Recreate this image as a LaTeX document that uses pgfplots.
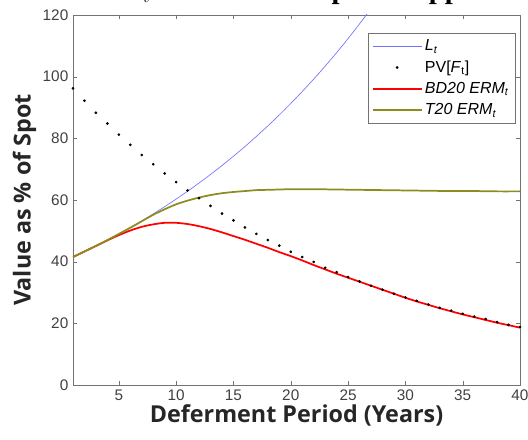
\documentclass[border=0pt]{standalone}
\usepackage{fontspec}
\setmainfont{Liberation Sans}
\newfontfamily\labelfont{Open Sans}
\newfontfamily\titlefont{Liberation Serif}
\usepackage{pgfplots}
\pgfplotsset{compat=1.18}
\definecolor{axgray}{rgb}{0.45,0.45,0.45}
\definecolor{lblue}{rgb}{0.45,0.45,1}
\definecolor{olive20}{rgb}{0.55,0.55,0.12}

\begin{document}
\begin{tikzpicture}
\begin{axis}[scale only axis,
             width=335.25pt,
             height=277.5pt,
             xmin=1, xmax=40,
             ymin=0, ymax=120,
             xtick={5,10,...,40},
             ytick={0,20,...,120},
             axis line style={axgray},
             tick style={axgray},
             major tick length=3pt,
             tick label style={font=\fontsize{11.5}{14}\selectfont, text=black!75},
             /pgf/number format/assume math mode=true,
             xlabel={\labelfont\bfseries Deferment Period (Years)},
             ylabel={\labelfont\bfseries Value as \% of Spot},
             label style={font=\fontsize{17.5}{20}\selectfont, text=black!85},
             xlabel style={yshift=4pt},
             ylabel style={yshift=-2pt},
             legend cell align=left,
             legend style={at={(0.99,0.952)}, anchor=north east,
                           draw=axgray, font=\fontsize{12}{16}\selectfont,
                           inner sep=3pt, row sep=2pt},
             legend image code/.code={\draw[mark repeat=2,mark phase=2,#1]
                 plot coordinates {(0cm,0cm) (0.64cm,0cm) (1.28cm,0cm)};},
             clip=true]

    % L_t
    \addplot[lblue, line width=0.5pt, smooth] coordinates {
        (1,41.5) (2,43.26) (3,45.09) (4,47.00) (5,48.99) (6,51.07)
        (7,53.23) (8,55.49) (9,57.84) (10,60.29) (11,62.85) (12,65.51)
        (13,68.29) (14,71.18) (15,74.20) (16,77.34) (17,80.62) (18,84.03)
        (19,87.59) (20,91.31) (21,95.18) (22,99.21) (23,103.41) (24,107.79)
        (25,112.36) (26,117.12) (27,122.09) (28,127.26)
    };
    \addlegendentry{\itshape L\textsubscript{t}}

    % PV[F_t]
    \addplot[only marks, mark=*, mark size=0.8pt, black] coordinates {
        (1,96.2) (2,92.2) (3,88.3) (4,84.8) (5,81.2) (6,77.9) (7,74.6)
        (8,71.6) (9,68.6) (10,65.8) (11,63.1) (12,60.6) (13,58.1) (14,55.6)
        (15,53.4) (16,51.1) (17,49.0) (18,47.0) (19,45.2) (20,43.2)
        (21,41.5) (22,39.9) (23,38.0) (24,36.6) (25,35.0) (26,33.6)
        (27,32.2) (28,30.9) (29,29.6) (30,28.4) (31,27.3) (32,26.1)
        (33,25.0) (34,24.1) (35,23.1) (36,22.2) (37,21.4) (38,20.4)
        (39,19.5) (40,18.8)
    };
    \addlegendentry{PV[\textit{F}\textsubscript{t}]}

    % BD20 ERM_t
    \addplot[red, line width=1.3pt, smooth] coordinates {
        (1,41.5) (2,43.3) (3,45.1) (4,46.9) (5,48.6) (6,50.1) (7,51.3)
        (8,52.1) (9,52.6) (10,52.6) (11,52.2) (12,51.5) (13,50.6)
        (14,49.5) (15,48.3) (16,47.1) (17,45.8) (18,44.5) (19,43.1)
        (20,41.8) (21,40.4) (22,38.9) (23,37.5) (24,36.1) (25,34.8)
        (26,33.5) (27,32.2) (28,30.9) (29,29.6) (30,28.3) (31,27.1)
        (32,26.0) (33,24.9) (34,23.9) (35,22.9) (36,22.0) (37,21.1)
        (38,20.2) (39,19.4) (40,18.6)
    };
    \addlegendentry{\itshape BD20 ERM\textsubscript{t}}

    % T20 ERM_t
    \addplot[olive20, line width=1.3pt, smooth] coordinates {
        (1,41.5) (2,43.3) (3,45.1) (4,47.0) (5,49.0) (6,51.0) (7,53.1)
        (8,55.2) (9,57.0) (10,58.6) (11,59.8) (12,60.8) (13,61.6)
        (14,62.2) (15,62.6) (16,62.9) (17,63.2) (18,63.3) (19,63.4)
        (20,63.5) (22,63.5) (24,63.4) (26,63.3) (28,63.2) (30,63.1)
        (32,63.0) (34,62.9) (36,62.9) (38,62.8) (40,62.8)
    };
    \addlegendentry{\itshape T20 ERM\textsubscript{t}}
\end{axis}

% title of the figure, mostly cut off by the page edge as in the source
\node[anchor=base west, inner sep=0pt, font=\titlefont\bfseries\fontsize{21.5}{24}\selectfont]
    at ([xshift=-62pt, yshift=12.5pt]current axis.north west)
    {a. T20 ERM$_t$ and the Principle of Opportunity};

\pgfresetboundingbox
\path[use as bounding box]
    ([xshift=-54.75pt, yshift=-40.5pt]current axis.south west)
    rectangle ([xshift=6pt, yshift=11.25pt]current axis.north east);
\end{tikzpicture}
\end{document}
